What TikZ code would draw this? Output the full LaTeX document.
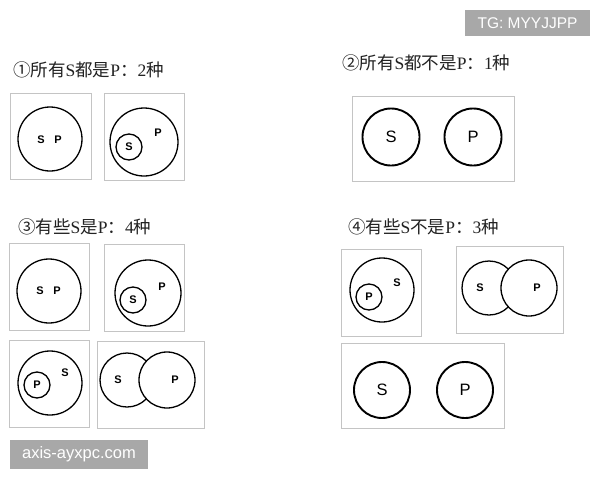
\documentclass[tikz,border=0pt]{standalone}
\usepackage{fontspec}
\setmainfont{Liberation Sans}
\newfontfamily\cjkfont{Noto Sans CJK SC}
\newfontfamily\labfont{Liberation Sans}
\newfontfamily\latser{Liberation Serif}
\newcommand{\ls}[1]{{\latser #1}}
\definecolor{framegray}{HTML}{C4C4C4}
\definecolor{titlecol}{HTML}{222222}
\definecolor{wmgray}{HTML}{A8A8A8}
\begin{document}
\begin{tikzpicture}[x=1pt,y=-1pt,
  frame/.style={draw=framegray, line width=0.9pt, rectangle, inner sep=0pt},
  circ/.style={circle, draw=black, line width=1.3pt, inner sep=0pt},
  bigcirc/.style={circle, draw=black, line width=1.9pt, inner sep=0pt},
  lab/.style={inner sep=0pt, font=\labfont\bfseries\fontsize{11}{11}\selectfont},
  biglab/.style={inner sep=0pt, font=\labfont\fontsize{16.5}{16.5}\selectfont},
  title/.style={anchor=west, inner sep=0pt, text=titlecol, font=\cjkfont\fontsize{17.5}{17.5}\selectfont},
  wm/.style={fill=wmgray, text=white, inner sep=0pt, font=\labfont\fontsize{15.5}{15.5}\selectfont}]
\useasboundingbox (0,0) rectangle (600,480);
\fill[white] (0,0) rectangle (600,480);

% titles
\node[title] (t1) at (13,70) {①所有\ls{S}都是\ls{P}：\ls{2}种};
\node[title] (t2) at (342,63) {②所有\ls{S}都不是\ls{P}：\ls{1}种};
\node[title] (t3) at (18,227) {③有些\ls{S}是\ls{P}：\ls{4}种};
\node[title] (t4) at (348,227) {④有些\ls{S}不是\ls{P}：\ls{3}种};

% frames
\node[frame, minimum width=81pt, minimum height=86pt] (b1) at (50.5,136) {};
\node[frame, minimum width=80pt, minimum height=87pt] (b2) at (144,136.5) {};
\node[frame, minimum width=162pt, minimum height=85pt] (b3) at (433,138.5) {};
\node[frame, minimum width=80pt, minimum height=87pt] (b4) at (49,286.5) {};
\node[frame, minimum width=80pt, minimum height=87pt] (b5) at (144,287.5) {};
\node[frame, minimum width=80pt, minimum height=87pt] (b6) at (49,383.5) {};
\node[frame, minimum width=107pt, minimum height=87pt] (b7) at (150.5,384.5) {};
\node[frame, minimum width=80pt, minimum height=87pt] (b8) at (381,292.5) {};
\node[frame, minimum width=107pt, minimum height=87pt] (b9) at (509.5,289.5) {};
\node[frame, minimum width=163pt, minimum height=85pt] (b10) at (422.5,385.5) {};

% box 1
\node[circ, minimum size=64pt] (c1) at (50,139) {};
\node[lab] (c1s) at (41,140) {S};
\node[lab] (c1p) at (58,140) {P};

% box 2
\node[circ, minimum size=68pt] (c2p) at (144,142) {};
\node[circ, minimum size=26pt] (c2s) at (129,147) {};
\node[lab] (c2sl) at (129,147) {S};
\node[lab] (c2pl) at (158,133) {P};

% box 3
\node[bigcirc, minimum size=57pt] (c3s) at (391,137) {};
\node[bigcirc, minimum size=57pt] (c3p) at (473,137) {};
\node[biglab] (c3sl) at (391,137) {S};
\node[biglab] (c3pl) at (473,137) {P};

% box 4
\node[circ, minimum size=64pt] (c4) at (49,291) {};
\node[lab] (c4s) at (40,291) {S};
\node[lab] (c4p) at (57,291) {P};

% box 5
\node[circ, minimum size=66pt] (c5p) at (148,293) {};
\node[circ, minimum size=26pt] (c5s) at (133,300) {};
\node[lab] (c5sl) at (133,300) {S};
\node[lab] (c5pl) at (162,287) {P};

% box 6
\node[circ, minimum size=64pt] (c6s) at (50,383) {};
\node[circ, minimum size=26pt] (c6p) at (37,385) {};
\node[lab] (c6pl) at (37,385) {P};
\node[lab] (c6sl) at (65,373) {S};

% box 7
\node[circ, minimum size=54pt] (c7s) at (127,380) {};
\node[circ, fill=white, minimum size=56pt] (c7p) at (167,380) {};
\node[lab] (c7sl) at (118,380) {S};
\node[lab] (c7pl) at (175,380) {P};

% box 8
\node[circ, minimum size=64pt] (c8s) at (382,290) {};
\node[circ, minimum size=26pt] (c8p) at (369,297) {};
\node[lab] (c8pl) at (369,297) {P};
\node[lab] (c8sl) at (397,283) {S};

% box 9
\node[circ, minimum size=54pt] (c9s) at (489,288) {};
\node[circ, fill=white, minimum size=56pt] (c9p) at (529,288) {};
\node[lab] (c9sl) at (480,288) {S};
\node[lab] (c9pl) at (537,288) {P};

% box 10
\node[bigcirc, minimum size=56pt] (c10s) at (382,390) {};
\node[bigcirc, minimum size=56pt] (c10p) at (465,390) {};
\node[biglab] (c10sl) at (382,390) {S};
\node[biglab] (c10pl) at (465,390) {P};

% watermarks
\node[wm, minimum width=125pt, minimum height=26pt] (w1) at (527.5,23) {TG: MYYJJPP};
\node[wm, minimum width=138pt, minimum height=29pt, font=\labfont\fontsize{16.5}{16.5}\selectfont] (w2) at (79,454.5) {axis-ayxpc.com};
\end{tikzpicture}
\end{document}
